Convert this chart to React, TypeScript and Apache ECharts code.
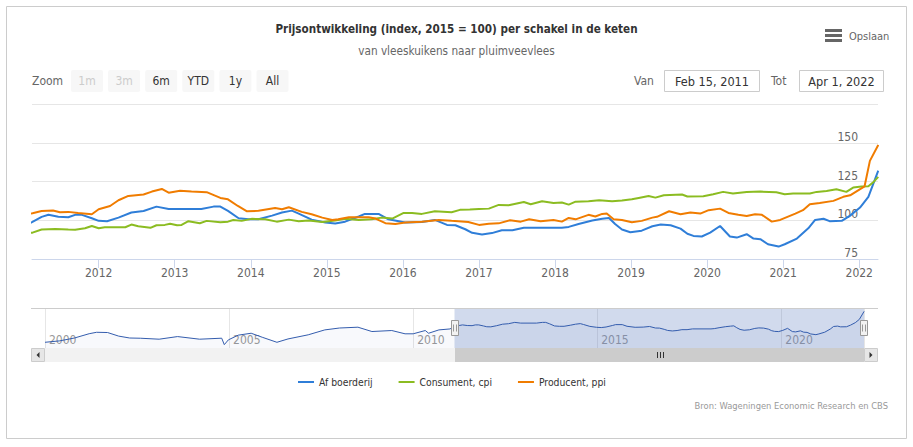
import React, { useEffect, useRef } from 'react';
import * as echarts from 'echarts';

const FONT = '"DejaVu Sans Condensed", "DejaVu Sans", sans-serif';

const titleText = 'Prijsontwikkeling (index, 2015 = 100) per schakel in de keten';
const subtitleText = 'van vleeskuikens naar pluimveevlees';
const creditsText = 'Bron: Wageningen Economic Research en CBS';
const menuText = 'Opslaan';

const seriesNames = ['Af boerderij', 'Consument, cpi', 'Producent, ppi'];
const seriesColors = ['#2f7ed8', '#8bbc21', '#f07c00'];

const viewFrom = '2011-02-15';
const viewTo = '2022-04-01';
const viewFromLabel = 'Feb 15, 2011';
const viewToLabel = 'Apr 1, 2022';
const navStartYear = 2000;

const rangeButtons = ['1m', '3m', '6m', 'YTD', '1y', 'All'];
const disabledButtons = ['1m', '3m'];

const xTickYears = [2012, 2013, 2014, 2015, 2016, 2017, 2018, 2019, 2020, 2021, 2022];
const yMin = 75;
const yMax = 175;
const yStep = 25;
const navStep = 5;

// Af boerderij, main period (decimal year, index)
const afBoerderijJaar = [2011.05, 2011.13, 2011.25, 2011.34, 2011.47, 2011.6, 2011.69, 2011.78, 2011.91, 2012.0, 2012.11, 2012.26, 2012.43, 2012.59, 2012.76, 2012.92, 2013.35, 2013.51, 2013.6, 2013.7, 2013.84, 2013.97, 2014.1, 2014.28, 2014.41, 2014.54, 2014.63, 2014.8, 2014.98, 2015.11, 2015.24, 2015.42, 2015.5, 2015.68, 2015.81, 2016.03, 2016.25, 2016.42, 2016.58, 2016.69, 2016.82, 2016.91, 2017.04, 2017.17, 2017.3, 2017.44, 2017.59, 2018.09, 2018.18, 2018.31, 2018.49, 2018.62, 2018.71, 2018.79, 2018.88, 2018.99, 2019.14, 2019.28, 2019.39, 2019.52, 2019.65, 2019.74, 2019.82, 2019.93, 2020.04, 2020.17, 2020.3, 2020.39, 2020.52, 2020.61, 2020.7, 2020.8, 2020.94, 2021.02, 2021.18, 2021.33, 2021.42, 2021.53, 2021.61, 2021.77, 2021.88, 2022.01, 2022.12, 2022.25];
const afBoerderijIndex = [97, 98.9, 102.2, 103.5, 102.2, 101.9, 103.5, 103.5, 101.3, 99.6, 99.4, 101.7, 105, 106, 108.8, 107.3, 107.3, 108.8, 108.8, 106, 101.3, 100.6, 100.6, 103, 105, 106.2, 104.3, 100.4, 98.5, 97.9, 99.1, 102.4, 104.1, 104.1, 100.6, 98.5, 98.9, 100.2, 97, 96.8, 94.2, 91.9, 90.8, 91.7, 93.5, 93.5, 95.1, 95.1, 95.7, 97.6, 99.8, 100.9, 101.5, 97.6, 94, 92.3, 93.3, 96.1, 97.2, 96.8, 94.6, 91.3, 89.9, 89.5, 92, 96.3, 89.5, 88.8, 91, 88.2, 87.8, 84.5, 83, 84.5, 88.2, 94.8, 100.2, 101, 99.4, 99.6, 103, 108.2, 115.1, 132];

// Af boerderij before the viewed period (only in the navigator)
const afBoerderijVroegJaar = [2000.0, 2000.4, 2000.8, 2001.2, 2001.4, 2001.7, 2002.0, 2002.3, 2002.6, 2003.1, 2003.6, 2004.2, 2004.8, 2004.87, 2004.98, 2005.25, 2005.6, 2005.9, 2006.3, 2006.6, 2007.15, 2007.6, 2008.0, 2008.5, 2008.88, 2009.42, 2009.78, 2010.0, 2010.33, 2010.42, 2010.7, 2011.0];
const afBoerderijVroegIndex = [67, 70, 76, 85, 88, 87.5, 80, 76, 75.5, 73.5, 79, 73.5, 75.6, 62, 72, 82, 86, 77.6, 67, 74, 82.7, 93, 97, 98.7, 89.6, 91.7, 84.8, 84.8, 91.7, 86, 93, 95];

const consumentJaar = [2011.05, 2011.13, 2011.25, 2011.43, 2011.6, 2011.69, 2011.82, 2011.91, 2012.0, 2012.08, 2012.35, 2012.43, 2012.52, 2012.68, 2012.76, 2012.87, 2012.94, 2013.03, 2013.09, 2013.18, 2013.33, 2013.42, 2013.6, 2013.7, 2013.77, 2013.88, 2014.01, 2014.19, 2014.34, 2014.5, 2014.63, 2014.76, 2014.94, 2015.11, 2015.24, 2015.42, 2015.59, 2015.72, 2015.86, 2016.01, 2016.12, 2016.25, 2016.42, 2016.64, 2016.75, 2016.88, 2017.0, 2017.13, 2017.26, 2017.39, 2017.59, 2017.68, 2017.83, 2017.98, 2018.09, 2018.18, 2018.27, 2018.44, 2018.58, 2018.75, 2018.88, 2019.01, 2019.1, 2019.23, 2019.32, 2019.43, 2019.67, 2019.74, 2019.95, 2020.08, 2020.21, 2020.34, 2020.52, 2020.7, 2020.91, 2021.02, 2021.13, 2021.35, 2021.44, 2021.57, 2021.7, 2021.83, 2021.92, 2022.03, 2022.12, 2022.18, 2022.25];
const consumentIndex = [91.5, 92, 94, 94.4, 94, 93.8, 94.8, 96.3, 94.8, 95.5, 95.5, 97.2, 96.1, 95.1, 96.8, 97, 97.8, 96.8, 97, 99.4, 98.1, 99.6, 98.7, 99.1, 100.2, 99.6, 100.9, 100.6, 99.1, 100.4, 99.4, 99.8, 98.9, 99.8, 100.9, 100.2, 100.6, 101.7, 101.1, 104.7, 104.7, 104.1, 105.8, 105.2, 106.7, 106.9, 107.3, 107.5, 109.9, 109.7, 111.8, 110.3, 112.3, 111.2, 111.4, 110.1, 112, 112.3, 112.9, 112.3, 112.7, 113.5, 114.4, 115.7, 114.6, 116.1, 116.6, 115.3, 115.5, 116.8, 118.3, 117.2, 118.3, 118.5, 118.1, 116.8, 117.2, 117.2, 118.3, 118.9, 120, 118.3, 121.1, 121.7, 121.9, 124.3, 128];

const producentJaar = [2011.05, 2011.13, 2011.25, 2011.4, 2011.49, 2011.6, 2011.73, 2011.91, 2012.0, 2012.15, 2012.26, 2012.39, 2012.59, 2012.7, 2012.83, 2012.92, 2013.07, 2013.22, 2013.42, 2013.6, 2013.7, 2013.83, 2013.95, 2014.1, 2014.32, 2014.41, 2014.5, 2014.67, 2014.8, 2014.94, 2015.07, 2015.15, 2015.29, 2015.55, 2015.64, 2015.77, 2015.9, 2016.03, 2016.25, 2016.47, 2016.64, 2016.86, 2017.0, 2017.13, 2017.26, 2017.41, 2017.55, 2017.66, 2017.81, 2017.98, 2018.09, 2018.18, 2018.27, 2018.44, 2018.53, 2018.62, 2018.68, 2018.77, 2018.88, 2019.01, 2019.14, 2019.28, 2019.34, 2019.5, 2019.65, 2019.78, 2019.91, 2020.02, 2020.17, 2020.28, 2020.41, 2020.52, 2020.63, 2020.72, 2020.85, 2020.96, 2021.16, 2021.26, 2021.35, 2021.48, 2021.66, 2021.79, 2021.88, 2022.07, 2022.14, 2022.25];
const producentIndex = [104, 104.5, 106, 106.3, 105.2, 105.4, 104.7, 103.9, 107.1, 109.2, 112.9, 115.7, 116.6, 118.5, 120.2, 117.8, 119.1, 118.5, 118.1, 114.4, 113.5, 109.2, 105.8, 106.1, 107.9, 107.1, 108.4, 105.4, 103.9, 101.7, 100.2, 100.6, 101.9, 101.9, 101.1, 98.1, 97.6, 98.5, 99.1, 100.2, 99.6, 98.9, 97, 97.8, 98, 100, 99.1, 100.6, 99.4, 100.2, 99.1, 101.5, 100.6, 103.5, 102.4, 104.1, 104.4, 100.6, 100.2, 98.7, 99.6, 101.7, 102.2, 105.8, 103.9, 105, 104.3, 106.5, 107.5, 104.7, 103.5, 102.8, 103.9, 103.5, 99.1, 100.2, 104.3, 106.5, 110.3, 111.2, 112.5, 115.1, 116.1, 121.9, 138.3, 148.6];

function decYear(iso: string): number {
  const [y, m, d] = iso.split('-').map(Number);
  const start = Date.UTC(y, 0, 1);
  const end = Date.UTC(y + 1, 0, 1);
  return y + (Date.UTC(y, m - 1, d) - start) / (end - start);
}

const zip = (xs: number[], ys: number[]) => xs.map((x, i) => [x, ys[i]]);

export default function App() {
  const ref = useRef<HTMLDivElement>(null);

  useEffect(() => {
    if (!ref.current) return;
    const chart = echarts.init(ref.current, null, { renderer: 'svg' });

    const viewMin = decYear(viewFrom);
    const viewMax = decYear(viewTo);

    const mainData = [
      zip(afBoerderijJaar, afBoerderijIndex),
      zip(consumentJaar, consumentIndex),
      zip(producentJaar, producentIndex),
    ];
    const navData = zip(afBoerderijVroegJaar.concat(afBoerderijJaar), afBoerderijVroegIndex.concat(afBoerderijIndex));
    const navVals = navData.map((p) => p[1]);
    const nLo = Math.min(...navVals);
    const nHi = Math.max(...navVals);
    const nPad = (nHi - nLo) * 0.1;

    const NAV_TOP = 308;
    const NAV_H = 40;

    const option: any = {
      animation: false,
      backgroundColor: '#ffffff',
      textStyle: { fontFamily: FONT },
      title: {
        text: titleText,
        subtext: subtitleText,
        left: 'center',
        top: 17,
        itemGap: 8,
        textStyle: { fontFamily: FONT, fontSize: 11.6, fontWeight: 'bold', color: '#333333', lineHeight: 14 },
        subtextStyle: { fontFamily: FONT, fontSize: 11.7, color: '#666666', lineHeight: 14 },
      },
      legend: {
        data: seriesNames,
        left: 298,
        top: 377,
        padding: 0,
        icon: 'rect',
        itemWidth: 16,
        itemHeight: 2,
        itemGap: 26,
        textStyle: { fontFamily: FONT, fontSize: 10.3, color: '#333333' },
      },
      grid: [
        { left: 32, top: 104, width: 846, height: 155 },
        { left: 45, top: NAV_TOP, width: 819, height: NAV_H },
      ],
      xAxis: [
        {
          type: 'value',
          gridIndex: 0,
          min: viewMin,
          max: viewMax,
          axisLine: { onZero: false, lineStyle: { color: '#ccd6eb' } },
          axisTick: { customValues: xTickYears, length: 9, lineStyle: { color: '#ccd6eb' } },
          axisLabel: {
            customValues: xTickYears,
            color: '#666666',
            fontSize: 12,
            fontFamily: FONT,
            margin: 8,
            formatter: (v: number) => String(Math.round(v)),
          },
          splitLine: { show: false },
        },
        {
          type: 'value',
          gridIndex: 1,
          min: navStartYear,
          max: viewMax,
          interval: navStep,
          axisLine: { show: false },
          axisTick: { show: false },
          splitLine: { show: true, lineStyle: { color: '#e6e6e6' } },
          axisLabel: {
            inside: true,
            align: 'left',
            verticalAlign: 'bottom',
            margin: 2,
            padding: [0, 0, 0, 4],
            showMinLabel: true,
            showMaxLabel: false,
            color: '#999999',
            fontSize: 12,
            fontFamily: FONT,
            formatter: (v: number) => String(Math.round(v)),
          },
        },
      ],
      yAxis: [
        {
          type: 'value',
          gridIndex: 0,
          position: 'right',
          min: yMin,
          max: yMax,
          interval: yStep,
          axisLine: { show: false },
          axisTick: { show: false },
          splitLine: { lineStyle: { color: '#e6e6e6' } },
          axisLabel: {
            inside: true,
            margin: 20,
            showMaxLabel: false,
            color: '#666666',
            fontSize: 12,
            fontFamily: FONT,
            verticalAlign: 'bottom',
            lineHeight: 12,
          },
        },
        {
          type: 'value',
          gridIndex: 1,
          min: nLo - nPad,
          max: nHi + nPad,
          show: false,
          splitLine: { show: false },
        },
      ],
      series: [
        ...seriesNames.map((name, i) => ({
          name,
          type: 'line',
          xAxisIndex: 0,
          yAxisIndex: 0,
          data: mainData[i],
          symbol: 'none',
          clip: true,
          color: seriesColors[i],
          lineStyle: { width: 2, color: seriesColors[i] },
          emphasis: { disabled: true },
        })),
        {
          name: 'navigator',
          type: 'line',
          xAxisIndex: 1,
          yAxisIndex: 1,
          data: navData,
          symbol: 'none',
          color: '#335cad',
          lineStyle: { width: 1, color: '#335cad' },
          areaStyle: { color: 'rgba(51,92,173,0.05)' },
          emphasis: { disabled: true },
          markArea: {
            silent: true,
            itemStyle: { color: 'rgba(102,133,194,0.3)' },
            data: [[{ xAxis: viewMin }, { xAxis: viewMax }]],
          },
        },
      ],
    };

    chart.setOption(option);

    const px = (v: number) => chart.convertToPixel({ xAxisIndex: 1 }, v) as number;
    const nL = Math.round(px(navStartYear));
    const nR = Math.round(px(viewMax));
    const sL = Math.round(px(viewMin));
    const sR = Math.round(px(viewMax));
    const SB_Y = NAV_TOP + NAV_H;
    const SB_H = 14;
    const handleY = NAV_TOP + NAV_H / 2;

    const txt = (text: string, x: number, y: number, size: number, color: string, align = 'left', weight = 'normal') => ({
      type: 'text',
      z: 100,
      silent: true,
      style: { text, x, y, fill: color, fontSize: size, fontFamily: FONT, fontWeight: weight, textAlign: align, textVerticalAlign: 'middle' },
    });

    const graphics: any[] = [];
    // outer border
    graphics.push({ type: 'rect', z: 100, silent: true, shape: { x: 6.5, y: 6.5, width: 900, height: 432 }, style: { fill: 'none', stroke: '#cccccc', lineWidth: 1 } });
    // menu
    [29, 34, 39].forEach((y) => graphics.push({ type: 'rect', z: 100, silent: true, shape: { x: 825, y, width: 17, height: 3 }, style: { fill: '#666666' } }));
    graphics.push(txt(menuText, 849, 36, 11, '#666666'));
    // range selector
    graphics.push(txt('Zoom', 32, 81, 12, '#666666'));
    rangeButtons.forEach((b, i) => {
      const x = 71 + i * 37.1;
      graphics.push({ type: 'rect', z: 100, silent: true, shape: { x, y: 70, width: 32, height: 22, r: 2 }, style: { fill: '#f7f7f7' } });
      graphics.push(txt(b, x + 16, 81, 12, disabledButtons.includes(b) ? '#cccccc' : '#333333', 'center'));
    });
    graphics.push(txt('Van', 634, 81, 12, '#666666'));
    graphics.push({ type: 'rect', z: 100, silent: true, shape: { x: 664.5, y: 70.5, width: 95, height: 21 }, style: { fill: '#ffffff', stroke: '#cccccc', lineWidth: 1 } });
    graphics.push(txt(viewFromLabel, 712, 81, 12.6, '#333333', 'center'));
    graphics.push(txt('Tot', 771, 81, 12, '#666666'));
    graphics.push({ type: 'rect', z: 100, silent: true, shape: { x: 799.5, y: 70.5, width: 84, height: 21 }, style: { fill: '#ffffff', stroke: '#cccccc', lineWidth: 1 } });
    graphics.push(txt(viewToLabel, 841.5, 81, 12.6, '#333333', 'center'));
    // credits
    graphics.push(txt(creditsText, 888, 405, 9.3, '#999999', 'right'));

    // navigator outline
    graphics.push({ type: 'line', z: 100, silent: true, shape: { x1: nL - 14, y1: NAV_TOP + 0.5, x2: nR + 14, y2: NAV_TOP + 0.5 }, style: { stroke: '#cccccc', lineWidth: 1 } });
    // scrollbar
    graphics.push({ type: 'rect', z: 100, silent: true, shape: { x: nL, y: SB_Y, width: nR - nL, height: SB_H }, style: { fill: '#f2f2f2' } });
    graphics.push({ type: 'rect', z: 101, silent: true, shape: { x: sL, y: SB_Y, width: sR - sL, height: SB_H }, style: { fill: '#cccccc' } });
    const rc = Math.round((sL + sR) / 2) + 0.5;
    [-3, 0, 3].forEach((dx) => graphics.push({ type: 'line', z: 102, silent: true, shape: { x1: rc + dx, y1: SB_Y + 4, x2: rc + dx, y2: SB_Y + 10 }, style: { stroke: '#333333', lineWidth: 1 } }));
    // scrollbar buttons
    graphics.push({ type: 'rect', z: 101, silent: true, shape: { x: nL - 14 + 0.5, y: SB_Y + 0.5, width: 13, height: SB_H - 1 }, style: { fill: '#e6e6e6', stroke: '#cccccc', lineWidth: 1 } });
    graphics.push({ type: 'rect', z: 101, silent: true, shape: { x: nR + 0.5, y: SB_Y + 0.5, width: 13, height: SB_H - 1 }, style: { fill: '#e6e6e6', stroke: '#cccccc', lineWidth: 1 } });
    const lc = nL - 7;
    const rcB = nR + 7;
    const my = SB_Y + SB_H / 2;
    graphics.push({ type: 'polygon', z: 102, silent: true, shape: { points: [[lc - 1.5, my], [lc + 1.5, my - 3], [lc + 1.5, my + 3]] }, style: { fill: '#333333' } });
    graphics.push({ type: 'polygon', z: 102, silent: true, shape: { points: [[rcB + 1.5, my], [rcB - 1.5, my - 3], [rcB - 1.5, my + 3]] }, style: { fill: '#333333' } });
    // handles
    [sL, sR].forEach((hx) => {
      graphics.push({ type: 'rect', z: 103, silent: true, shape: { x: hx - 3.5, y: handleY - 7.5, width: 7, height: 15 }, style: { fill: '#f2f2f2', stroke: '#999999', lineWidth: 1 } });
      [-1.5, 1.5].forEach((dx) => graphics.push({ type: 'line', z: 104, silent: true, shape: { x1: hx + dx, y1: handleY - 3.5, x2: hx + dx, y2: handleY + 3.5 }, style: { stroke: '#999999', lineWidth: 1 } }));
    });

    chart.setOption({ graphic: graphics });

    return () => chart.dispose();
  }, []);

  return (
    <div
      ref={ref}
      style={{ position: 'absolute', left: 0, top: 0, width: 913, height: 447, background: '#ffffff' }}
    />
  );
}
